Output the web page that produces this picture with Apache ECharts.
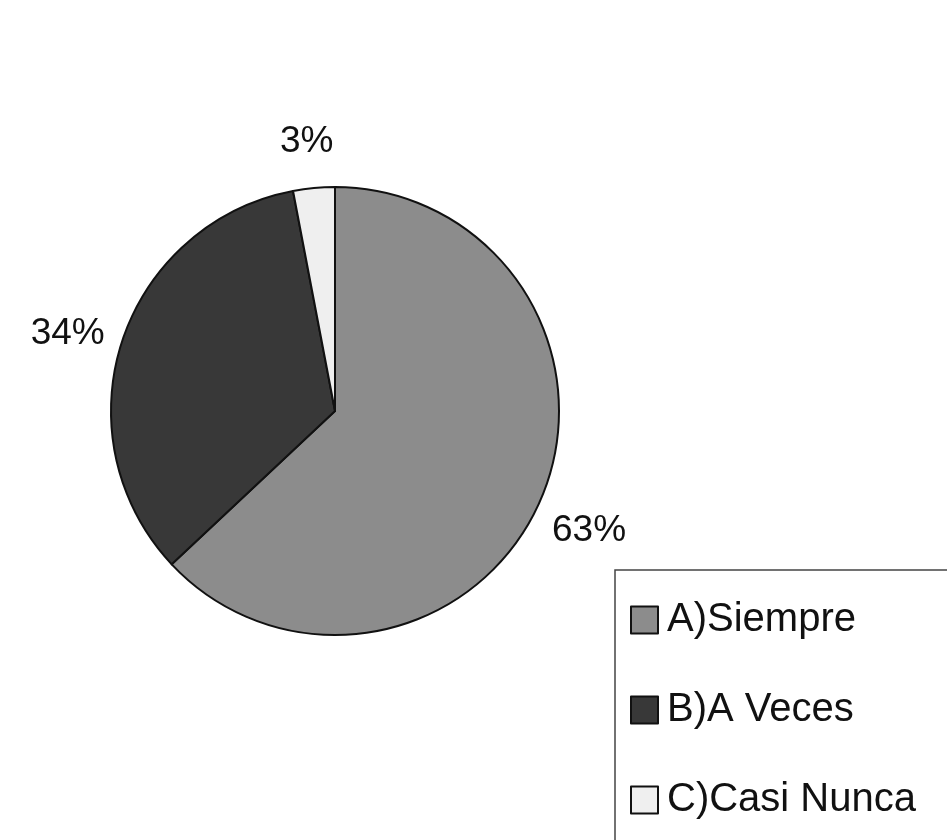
<!DOCTYPE html>
<html>
<head>
<meta charset="utf-8">
<script src="https://cdn.jsdelivr.net/npm/echarts@6/dist/echarts.min.js"></script>
<style>
html,body{margin:0;padding:0;background:#fff;}
#c{width:947px;height:840px;}
</style>
</head>
<body>
<div id="c"></div>
<script>
const categories = ['A)Siempre', 'B)A Veces', 'C)Casi Nunca'];
const values = [63, 34, 3];
const sliceColors = ['#8c8c8c', '#383838', '#efefef'];

const chart = echarts.init(document.getElementById('c'), null, {renderer: 'canvas'});
const pieData = categories.map((n, i) => ({name: n, value: values[i], itemStyle: {color: sliceColors[i]}}));
const FONT = '"Liberation Sans", Arial, sans-serif';

chart.setOption({
  backgroundColor: '#ffffff',
  animation: false,
  legend: {
    orient: 'vertical',
    left: 630,
    top: 600,
    padding: 0,
    data: categories,
    icon: 'rect',
    itemWidth: 27,
    itemHeight: 27,
    itemGap: 50,
    itemStyle: {borderColor: '#111', borderWidth: 2},
    textStyle: {fontFamily: FONT, fontSize: 40, color: '#111', lineHeight: 40, padding: [0, 0, 0, 4]},
    selectedMode: false
  },
  graphic: [{
    type: 'rect',
    shape: {x: 615, y: 570, width: 400, height: 320},
    style: {fill: 'none', stroke: '#444', lineWidth: 1.5},
    z: -1
  }],
  series: [{
    type: 'pie',
    center: [335, 411],
    radius: 224,
    startAngle: 90,
    clockwise: true,
    data: pieData,
    label: {show: false},
    labelLine: {show: false},
    itemStyle: {borderColor: '#111', borderWidth: 2},
    emphasis: {disabled: true},
    silent: true
  }, {
    type: 'pie',
    center: [335, 411],
    radius: [256, 296],
    startAngle: 90,
    clockwise: true,
    data: categories.map((n, i) => ({name: n, value: values[i]})),
    itemStyle: {color: 'rgba(0,0,0,0)', borderWidth: 0},
    label: {
      show: true,
      position: 'inside',
      formatter: p => p.value + '%',
      fontFamily: FONT,
      fontSize: 37,
      color: '#111',
      offset: [-2, 9]
    },
    labelLine: {show: false},
    emphasis: {disabled: true},
    silent: true
  }]
});
</script>
</body>
</html>
